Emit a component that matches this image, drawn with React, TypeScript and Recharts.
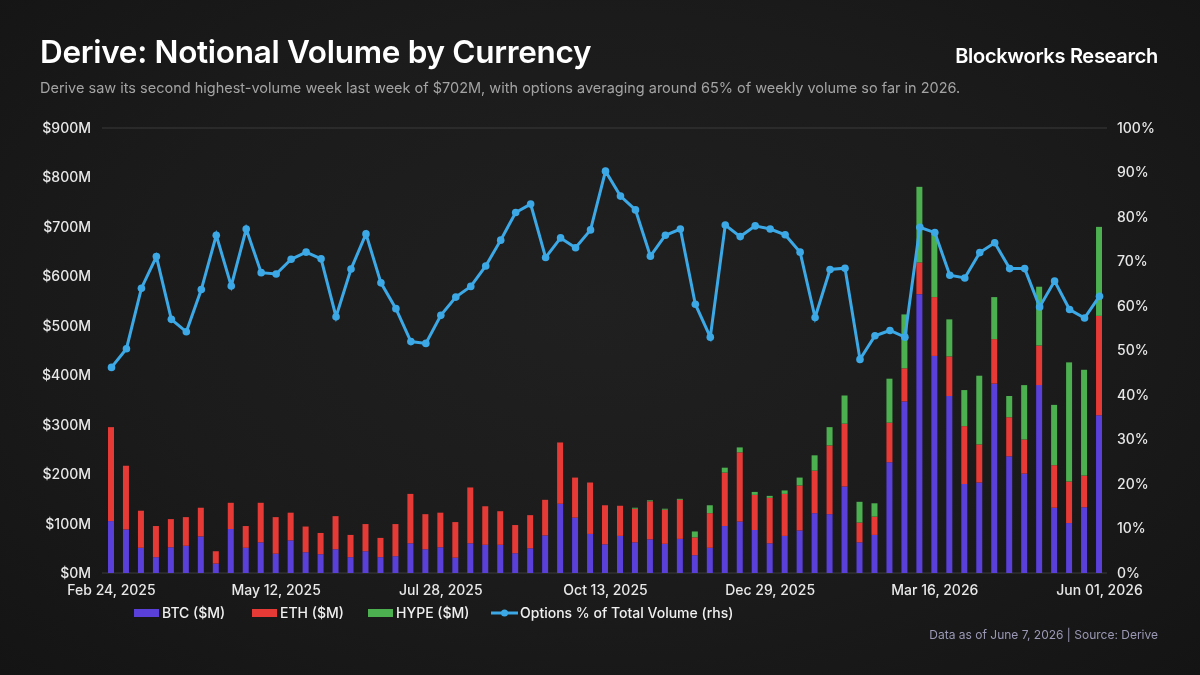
import React from "react";
import {
  ComposedChart,
  Bar,
  Line,
  XAxis,
  YAxis,
  CartesianGrid,
} from "recharts";

// weekly notional volume, $M
const btc = [
  105, 88, 51, 32, 52, 55, 74, 19, 89, 51, 62, 39, 66, 42, 38, 48, 32, 44, 32, 34,
  60, 48, 52, 31, 60, 57, 57, 40, 50, 76, 140, 112, 79, 58, 75, 62, 68, 59, 69, 36,
  51, 95, 104, 87, 60, 75, 86, 121, 119, 175, 62, 77, 224, 347, 564, 439, 358, 180,
  183, 383, 236, 201, 380, 132, 101, 133, 319,
];
const eth = [
  190, 129, 75, 63, 57, 58, 58, 25, 53, 44, 80, 74, 56, 52, 43, 67, 45, 55, 39, 65,
  100, 71, 70, 72, 113, 78, 68, 57, 67, 72, 124, 81, 104, 79, 61, 68, 77, 69, 79, 36,
  70, 108, 140, 71, 92, 85, 91, 86, 139, 127, 40, 37, 80, 67, 64, 119, 80, 117, 77,
  90, 79, 69, 80, 86, 84, 64, 201,
];
const hype = [
  0, 0, 0, 0, 0, 0, 0, 0, 0, 0, 0, 0, 0, 0, 0, 0, 0, 0, 0, 0,
  0, 0, 0, 0, 0, 0, 0, 0, 0, 0, 0, 0, 0, 0, 0, 2, 2, 2, 2, 12,
  16, 10, 10, 6, 4, 7, 16, 31, 37, 57, 42, 27, 89, 109, 153, 129, 75, 73, 139,
  85, 43, 110, 119, 122, 241, 214, 180,
];
// options share of total volume, %
const optionsPct = [
  46.2, 50.4, 64.0, 71.1, 57.0, 54.2, 63.7, 75.9, 64.5, 77.3, 67.5, 67.2, 70.5, 72.1,
  70.6, 57.6, 68.3, 76.2, 65.2, 59.4, 52.0, 51.6, 57.9, 62.0, 64.4, 69.0, 74.8, 81.0,
  82.9, 70.9, 75.3, 73.1, 77.1, 90.3, 84.7, 81.6, 71.2, 75.9, 77.3, 60.4, 53.0, 78.2,
  75.6, 78.0, 77.3, 76.0, 72.1, 57.4, 68.2, 68.5, 48.0, 53.3, 54.5, 53.0, 77.7, 76.5,
  66.9, 66.3, 72.0, 74.2, 68.4, 68.4, 59.8, 65.6, 59.2, 57.3, 62.2,
];

const xTicks = [
  "Feb 24, 2025",
  "May 12, 2025",
  "Jul 28, 2025",
  "Oct 13, 2025",
  "Dec 29, 2025",
  "Mar 16, 2026",
  "Jun 01, 2026",
];
const leftTicks = [0, 100, 200, 300, 400, 500, 600, 700, 800, 900];
const rightTicks = [0, 10, 20, 30, 40, 50, 60, 70, 80, 90, 100];

const MONTHS = ["Jan", "Feb", "Mar", "Apr", "May", "Jun", "Jul", "Aug", "Sep", "Oct", "Nov", "Dec"];
const START = Date.UTC(2025, 1, 24);

function weekLabel(i: number) {
  const d = new Date(START + i * 7 * 86400000);
  const dd = String(d.getUTCDate()).padStart(2, "0");
  return `${MONTHS[d.getUTCMonth()]} ${dd}, ${d.getUTCFullYear()}`;
}

const data = btc.map((b, i) => ({
  week: weekLabel(i),
  btc: b,
  eth: eth[i],
  hype: hype[i],
  pct: optionsPct[i],
}));

const BTC_COLOR = "#5a3fd8";
const ETH_COLOR = "#e63a36";
const HYPE_COLOR = "#4caf50";
const LINE_COLOR = "#3ca9e6";
const FONT = "Inter, 'Noto Sans', sans-serif";

const tickStyle = { fill: "#e8e8e8", fontSize: 14, fontFamily: FONT, fontWeight: 500 };

function LegendItem({ color, label, left, line }: { color: string; label: string; left: number; line?: boolean }) {
  return (
    <div style={{ position: "absolute", left, top: 0, display: "flex", alignItems: "center", whiteSpace: "nowrap" }}>
      {line ? (
        <svg width={27} height={10} style={{ marginRight: 2 }}>
          <line x1={0} y1={5} x2={27} y2={5} stroke={color} strokeWidth={3} />
          <circle cx={13.5} cy={5} r={3.5} fill={color} />
        </svg>
      ) : (
        <div style={{ width: 25, height: 8, background: color, marginRight: 3 }} />
      )}
      <span>{label}</span>
    </div>
  );
}

export default function App() {
  return (
    <div
      style={{
        position: "fixed",
        left: 0,
        top: 0,
        width: 1200,
        height: 675,
        overflow: "hidden",
        background: "radial-gradient(ellipse at 50% 45%, #202020 0%, #1b1b1b 55%, #141414 100%)",
        fontFamily: FONT,
        color: "#fff",
      }}
    >
      <div style={{ position: "absolute", left: 40, top: 32, fontSize: 31.5, fontWeight: 600, letterSpacing: -0.3 }}>
        Derive: Notional Volume by Currency
      </div>
      <div style={{ position: "absolute", right: 42, top: 44, fontSize: 20, fontWeight: 600, letterSpacing: -0.3 }}>
        Blockworks Research
      </div>
      <div style={{ position: "absolute", left: 40, top: 79, fontSize: 14.5, color: "#a3a3a3" }}>
        Derive saw its second highest-volume week last week of $702M, with options averaging around 65% of weekly volume so far in 2026.
      </div>

      <div style={{ position: "absolute", left: 0, top: 0 }}>
        <ComposedChart
          width={1200}
          height={675}
          data={data}
          margin={{ top: 128, right: 43, bottom: 72, left: 42 }}
          barCategoryGap={0}
        >
          <CartesianGrid vertical={false} stroke="#3a3a3a" strokeWidth={1} />
          <XAxis
            dataKey="week"
            ticks={xTicks}
            interval={0}
            tick={tickStyle}
            tickLine={false}
            axisLine={false}
            tickMargin={6}
            height={30}
            padding={{ left: 2, right: 0 }}
          />
          <YAxis
            yAxisId="left"
            domain={[0, 900]}
            ticks={leftTicks}
            tickFormatter={(v) => `$${v}M`}
            tick={tickStyle}
            tickLine={false}
            axisLine={false}
            width={60}
            tickMargin={5}
          />
          <YAxis
            yAxisId="right"
            orientation="right"
            domain={[0, 100]}
            ticks={rightTicks}
            tickFormatter={(v) => `${v}%`}
            tick={{ ...tickStyle, textAnchor: "start" }}
            tickLine={false}
            axisLine={false}
            width={50}
            tickMargin={4}
          />
          <Bar yAxisId="left" dataKey="btc" stackId="v" fill={BTC_COLOR} barSize={6} isAnimationActive={false} />
          <Bar yAxisId="left" dataKey="eth" stackId="v" fill={ETH_COLOR} barSize={6} isAnimationActive={false} />
          <Bar yAxisId="left" dataKey="hype" stackId="v" fill={HYPE_COLOR} barSize={6} isAnimationActive={false} />
          <Line
            yAxisId="right"
            dataKey="pct"
            stroke={LINE_COLOR}
            strokeWidth={3}
            dot={{ r: 3.8, fill: LINE_COLOR, stroke: LINE_COLOR, strokeWidth: 0 }}
            type="linear"
            isAnimationActive={false}
          />
        </ComposedChart>
      </div>

      <div
        style={{
          position: "absolute",
          left: 0,
          top: 604,
          width: 1200,
          height: 20,
          fontSize: 14,
          fontWeight: 500,
          color: "#f0f0f0",
        }}
      >
        <LegendItem left={134} color={BTC_COLOR} label="BTC ($M)" />
        <LegendItem left={252} color={ETH_COLOR} label="ETH ($M)" />
        <LegendItem left={368} color={HYPE_COLOR} label="HYPE ($M)" />
        <LegendItem left={491} color={LINE_COLOR} label="Options % of Total Volume (rhs)" line />
      </div>

      <div style={{ position: "absolute", right: 42, top: 627, fontSize: 12, color: "#9a98b4" }}>
        Data as of June 7, 2026 | Source: Derive
      </div>
    </div>
  );
}
